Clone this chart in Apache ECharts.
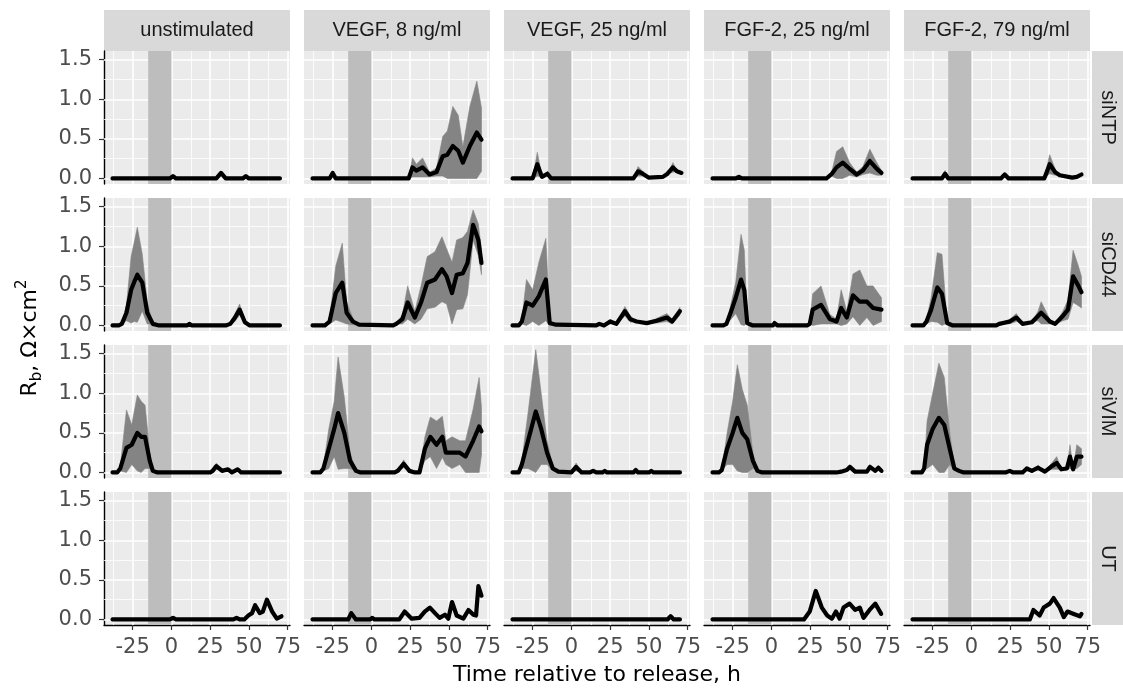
<!DOCTYPE html>
<html>
<head>
<meta charset="utf-8">
<script src="https://cdn.jsdelivr.net/npm/echarts@6/dist/echarts.min.js"></script>
<style>
  html, body { margin: 0; background: #fff; }
  #chart { width: 1123px; height: 689px; }
</style>
</head>
<body>
<div id="chart"></div>
<script>
// facets
const conditions = ['unstimulated', 'VEGF, 8 ng/ml', 'VEGF, 25 ng/ml', 'FGF-2, 25 ng/ml', 'FGF-2, 79 ng/ml']
const knockdowns = ['siNTP', 'siCD44', 'siVIM', 'UT']

// axes
const xTicks = [-25, 0, 25, 50, 75]
const xMinor = [-37.5, -12.5, 12.5, 37.5, 62.5]
const yTicks = [0, 0.5, 1, 1.5]
const yMinor = [0.25, 0.75, 1.25]
const xRange = [-43.5, 76.5]
const yRange = [-0.07, 1.61]
const releaseWindow = [-15, 0]

// [time h, mean Rb, sd]
const siNTP_unstim = [[-38, 0], [-1, 0], [1, 0.03], [3, 0], [29, 0], [32, 0.07, 0.02], [35, 0], [46, 0], [48, 0.03], [50, 0], [70, 0]]
const siNTP_vegf8 = [[-38, 0], [-27, 0], [-25, 0.07], [-23, 0], [24, 0], [26.5, 0.14, 0.12], [29, 0.1, 0.08], [33, 0.14, 0.12], [37.5, 0.05, 0.03], [42, 0.08, 0.05], [46, 0.28, 0.25], [49, 0.3, 0.3], [52.5, 0.41, 0.5], [56, 0.35, 0.45], [59, 0.2, 0.2], [63.5, 0.41, 0.5], [68, 0.58, 0.65], [71, 0.49, 0.4]]
const siNTP_vegf25 = [[-38, 0], [-25, 0], [-22, 0.18, 0.15], [-19, 0.02], [-15.5, 0.06, 0.03], [-13, 0], [40, 0], [43, 0.09, 0.06], [46, 0.06, 0.03], [50, 0.01], [59, 0.02], [62, 0.06], [65.5, 0.14, 0.06], [68, 0.09], [71, 0.07]]
const siNTP_fgf25 = [[-38, 0], [-23, 0], [-21, 0.02], [-19, 0], [35.5, 0], [39, 0.06, 0.03], [42, 0.14, 0.2], [46, 0.2, 0.2], [50.5, 0.12, 0.08], [55, 0.05, 0.03], [59, 0.1, 0.05], [63.5, 0.22, 0.15], [68, 0.12, 0.08], [71, 0.07, 0.03]]
const siNTP_fgf79 = [[-38, 0], [-19, 0], [-17, 0.06, 0.04], [-15, 0], [19, 0], [21.5, 0.05, 0.02], [24, 0], [47, 0], [50.5, 0.18, 0.12], [54, 0.08, 0.04], [57, 0.04], [65, 0.01], [68, 0.02], [71, 0.05]]

const siCD44_unstim = [[-38, 0], [-34, 0], [-32, 0.02], [-29, 0.16, 0.1], [-26, 0.45, 0.42], [-24, 0.55, 0.5], [-22, 0.64, 0.6], [-18.8, 0.54, 0.36], [-15.6, 0.16, 0.14], [-12, 0.02], [-8, 0], [10, 0], [11.7, 0.02], [13, 0], [35, 0], [38, 0.02], [41, 0.1, 0.05], [44, 0.2, 0.07], [47.4, 0.04, 0.02], [50.5, 0], [70, 0]]
const siCD44_vegf8 = [[-38, 0], [-30, 0], [-27, 0.05, 0.03], [-23, 0.41, 0.34], [-18.8, 0.54, 0.5], [-16, 0.16, 0.14], [-12, 0.05, 0.04], [-8, 0.01], [14, 0], [16, 0.02], [20, 0.08, 0.06], [23.4, 0.29, 0.21], [28, 0.1, 0.08], [32, 0.29, 0.21], [36, 0.54, 0.33], [41, 0.58, 0.35], [45.5, 0.71, 0.41], [48.5, 0.62, 0.35], [52, 0.41, 0.39], [55, 0.64, 0.44], [59, 0.66, 0.45], [62, 0.79, 0.4], [65.6, 1.27, 0.19], [69, 1.08, 0.2], [71, 0.79, 0.15]]
const siCD44_vegf25 = [[-38, 0], [-34, 0], [-32, 0.05, 0.03], [-29, 0.29, 0.29], [-25, 0.25, 0.2], [-21, 0.37, 0.43], [-16.5, 0.58, 0.52], [-14, 0.03, 0.03], [-10, 0.01], [16, 0], [18, 0.02], [21, 0], [25, 0.05, 0.03], [29, 0.02], [34.5, 0.18, 0.06], [38, 0.08, 0.04], [42, 0.05], [48.6, 0.03], [55, 0.06, 0.03], [61.6, 0.1, 0.05], [65, 0.05, 0.03], [70, 0.18, 0.05]]
const siCD44_fgf25 = [[-38, 0], [-31, 0], [-29, 0.02], [-26, 0.18, 0.1], [-23, 0.35, 0.2], [-19.6, 0.58, 0.57], [-17.5, 0.45, 0.5], [-15.6, 0.03], [-12, 0], [1, 0], [2, 0.03], [4, 0], [23, 0], [24.7, 0.02], [26.6, 0.2, 0.2], [32, 0.26, 0.24], [37.7, 0.08, 0.06], [42, 0.05, 0.03], [45, 0.22, 0.23], [48.6, 0.1, 0.08], [52.6, 0.38, 0.27], [57, 0.3, 0.4], [61.6, 0.3, 0.2], [65.6, 0.22, 0.28], [71, 0.2, 0.15]]
const siCD44_fgf79 = [[-38, 0], [-31, 0], [-29, 0.05, 0.03], [-26, 0.2, 0.15], [-22, 0.48, 0.44], [-19, 0.4, 0.5], [-15.6, 0.03], [-12, 0], [16, 0], [18, 0.02], [24.7, 0.05, 0.03], [29, 0.1, 0.05], [33, 0.02], [39, 0.04], [43, 0.12, 0.06], [45, 0.16, 0.14], [50.6, 0.05, 0.03], [54, 0.02], [59, 0.12, 0.06], [62.3, 0.2, 0.12], [65.6, 0.62, 0.33], [69, 0.5, 0.25], [71, 0.42, 0.2]]

const siVIM_unstim = [[-38, 0], [-35, 0], [-33, 0.05, 0.03], [-29, 0.31, 0.48], [-25.6, 0.35, 0.25], [-22, 0.5, 0.48], [-19.5, 0.45, 0.45], [-17, 0.45, 0.4], [-14, 0.15, 0.1], [-12, 0.02], [-9, 0], [25, 0], [26.6, 0.02], [29, 0.08, 0.04], [32.7, 0.02], [36.5, 0.04], [39, 0], [42.7, 0.04], [45, 0], [70, 0]]
const siVIM_vegf8 = [[-38, 0], [-33, 0], [-31, 0.05, 0.03], [-27.5, 0.3, 0.25], [-24, 0.55, 0.35], [-21.5, 0.75, 0.71], [-17.5, 0.5, 0.45], [-13.8, 0.15, 0.1], [-10, 0.02], [-7, 0], [15, 0], [17, 0.02], [20.8, 0.11, 0.05], [24.5, 0.02], [28, 0], [31, 0], [34.5, 0.3, 0.15], [38, 0.45, 0.25], [42, 0.35, 0.3], [45.8, 0.45, 0.26], [48, 0.25, 0.15], [52, 0.25, 0.2], [57, 0.25, 0.15], [60.7, 0.2, 0.2], [65.6, 0.4, 0.4], [69.5, 0.58, 0.62], [71, 0.52, 0.3]]
const siVIM_vegf25 = [[-38, 0], [-34, 0], [-32, 0.1, 0.05], [-28, 0.4, 0.35], [-23, 0.77, 0.78], [-19.5, 0.55, 0.45], [-15.7, 0.25, 0.15], [-12, 0.05, 0.03], [-8.4, 0.01], [0, 0], [3, 0.07, 0.05], [6.6, 0], [12, 0], [14, 0.02], [16, 0], [20, 0], [21.5, 0.02], [23, 0], [40, 0], [41.5, 0.03], [43, 0], [50, 0], [51.5, 0.02], [53, 0], [70, 0]]
const siVIM_fgf25 = [[-38, 0], [-34, 0], [-32, 0.03], [-28.6, 0.3, 0.2], [-25, 0.5, 0.4], [-22, 0.69, 0.67], [-18.8, 0.5, 0.55], [-15.6, 0.42, 0.43], [-12, 0.15, 0.1], [-9, 0.02], [-6, 0], [42, 0], [45, 0.01], [48.6, 0.03], [50.6, 0.07, 0.03], [54, 0.01], [61.6, 0.01], [63.6, 0.07, 0.03], [67, 0.02], [69, 0.06, 0.03], [71, 0.02]]
const siVIM_fgf79 = [[-38, 0], [-32, 0], [-30.5, 0.05], [-28.6, 0.35, 0.3], [-25, 0.55, 0.45], [-21, 0.69, 0.69], [-17.5, 0.6, 0.6], [-14, 0.3, 0.2], [-11, 0.05, 0.03], [-8, 0.02], [-5, 0], [22, 0], [24.7, 0.02], [27, 0], [33, 0], [35.7, 0.05, 0.02], [39, 0.02], [43, 0.06, 0.03], [47.4, 0.01], [51.9, 0.08, 0.04], [55, 0.12, 0.08], [58, 0.04], [61.6, 0.05], [63.6, 0.2, 0.15], [65.6, 0.04], [68, 0.2, 0.15], [71, 0.2, 0.1]]

const UT_unstim = [[-38, 0], [-1, 0], [1, 0.02], [3, 0], [40, 0], [42, 0.02], [44, 0], [47, 0], [49.6, 0.05], [52, 0.08], [54, 0.18], [57, 0.08], [59, 0.1], [61.6, 0.25], [65, 0.1], [68, 0.01], [71, 0.04]]
const UT_vegf8 = [[-38, 0], [-15, 0], [-13, 0.08], [-10, 0], [-1, 0], [0.6, 0.02], [2, 0], [18, 0], [21.4, 0.1], [26, 0.01], [31, 0.02], [34.4, 0.1], [37.7, 0.15], [41, 0.08], [44, 0.02], [47.4, 0.06], [49.6, 0.01], [52, 0.22], [55, 0.05], [59.3, 0.01], [62.6, 0.12], [65.8, 0.06], [67.5, 0.05], [69, 0.42], [71, 0.3]]
const UT_vegf25 = [[-38, 0], [62, 0], [64, 0.04], [66, 0], [70, 0]]
const UT_fgf25 = [[-38, 0], [21, 0], [22, 0.01], [24.7, 0.1], [28.6, 0.36], [32.5, 0.15], [36, 0.05], [39, 0.01], [41.6, 0.1], [44, 0.01], [46.5, 0.15], [50.4, 0.2], [54, 0.12], [57, 0.15], [59.4, 0.02], [63.3, 0.12], [67, 0.2], [70.8, 0.07]]
const UT_fgf79 = [[-38, 0], [37.7, 0], [40, 0.12], [44, 0.05], [46.6, 0.15], [50.6, 0.2], [53, 0.27], [57, 0.15], [59.6, 0.03], [62, 0.1], [66, 0.07], [70, 0.04], [71, 0.07]]

const panelData = [
  [siNTP_unstim, siNTP_vegf8, siNTP_vegf25, siNTP_fgf25, siNTP_fgf79],
  [siCD44_unstim, siCD44_vegf8, siCD44_vegf25, siCD44_fgf25, siCD44_fgf79],
  [siVIM_unstim, siVIM_vegf8, siVIM_vegf25, siVIM_fgf25, siVIM_fgf79],
  [UT_unstim, UT_vegf8, UT_vegf25, UT_fgf25, UT_fgf79]
]

// layout
const PANEL_LEFT = 104
const PANEL_TOP = 51
const PANEL_W = 186
const PANEL_H = 133
const COL_STEP = 200
const ROW_STEP = 147
const STRIP_H = 41
const STRIP_FONT = 'Liberation Sans'
const TICK_FONT = 'DejaVu Sans'

const grid = []
const xAxis = []
const yAxis = []
const series = []
const graphic = []

const gridLines = [].concat(
  xTicks.map(v => ({ xAxis: v, lineStyle: { width: 1.6 } })),
  xMinor.map(v => ({ xAxis: v, lineStyle: { width: 0.8 } })),
  yTicks.map(v => ({ yAxis: v, lineStyle: { width: 1.6 } })),
  yMinor.map(v => ({ yAxis: v, lineStyle: { width: 0.8 } }))
)

// the sd band is one polygon: upper edge forward, lower edge back
function bandRenderer (band) {
  return function (params, api) {
    if (params.dataIndex !== 0) return null
    const upper = band.map(d => api.coord([d[0], d[2]]))
    const lower = band.map(d => api.coord([d[0], d[1]])).reverse()
    return {
      type: 'polygon',
      shape: { points: upper.concat(lower) },
      style: { fill: '#848484', stroke: '#848484', lineWidth: 0.6 }
    }
  }
}

knockdowns.forEach((kd, r) => {
  conditions.forEach((cond, c) => {
    const i = r * conditions.length + c
    const firstCol = c === 0
    const lastRow = r === knockdowns.length - 1
    const rows = panelData[r][c]

    grid.push({
      left: PANEL_LEFT + c * COL_STEP,
      top: PANEL_TOP + r * ROW_STEP,
      width: PANEL_W,
      height: PANEL_H,
      show: true,
      backgroundColor: '#ebebeb',
      borderWidth: 0,
      outerBoundsMode: 'none'
    })

    xAxis.push({
      type: 'value',
      gridIndex: i,
      min: xRange[0],
      max: xRange[1],
      axisLine: { show: lastRow, onZero: false, lineStyle: { color: '#000', width: 1.4 } },
      axisTick: { show: lastRow, customValues: xTicks, length: 5, lineStyle: { color: '#333', width: 1.2 } },
      axisLabel: {
        show: lastRow, customValues: xTicks, margin: 12,
        color: '#4d4d4d', fontSize: 21, fontFamily: TICK_FONT,
        formatter: v => String(v)
      },
      splitLine: { show: false }
    })

    yAxis.push({
      type: 'value',
      gridIndex: i,
      min: yRange[0],
      max: yRange[1],
      axisLine: { show: firstCol, onZero: false, lineStyle: { color: '#000', width: 1.4 } },
      axisTick: { show: firstCol, customValues: yTicks, length: 5, lineStyle: { color: '#333', width: 1.2 } },
      axisLabel: {
        show: firstCol, customValues: yTicks, margin: 12,
        color: '#4d4d4d', fontSize: 21, fontFamily: TICK_FONT,
        formatter: v => v.toFixed(1)
      },
      splitLine: { show: false }
    })

    const base = { xAxisIndex: i, yAxisIndex: i, silent: true, animation: false }

    // panel grid
    series.push(Object.assign({}, base, {
      type: 'line', data: [], z: 1, symbol: 'none',
      markLine: {
        z: 1, silent: true, symbol: 'none', animation: false,
        label: { show: false }, emphasis: { disabled: true },
        lineStyle: { color: '#fff', type: 'solid' },
        data: gridLines
      }
    }))

    // release window
    series.push(Object.assign({}, base, {
      type: 'line', data: [], z: 2, symbol: 'none',
      markArea: {
        z: 2, silent: true, animation: false,
        itemStyle: { color: '#bdbdbd' },
        data: [[{ xAxis: releaseWindow[0] }, { xAxis: releaseWindow[1] }]]
      }
    }))

    // sd band
    const band = rows.map(d => [d[0], Math.max(0, d[1] - (d[2] || 0)), d[1] + (d[2] || 0)])
    series.push(Object.assign({}, base, {
      type: 'custom', data: band, z: 3, clip: true,
      encode: { x: 0, y: [1, 2] },
      renderItem: bandRenderer(band)
    }))

    // mean
    series.push(Object.assign({}, base, {
      type: 'line', data: rows.map(d => [d[0], d[1]]), z: 4, symbol: 'none',
      lineStyle: { color: '#000', width: 4.2, join: 'round', cap: 'round' }
    }))
  })
})

// column strips
conditions.forEach((cond, c) => {
  const x = PANEL_LEFT + c * COL_STEP
  graphic.push({ type: 'rect', shape: { x: x, y: PANEL_TOP - STRIP_H, width: PANEL_W, height: STRIP_H }, style: { fill: '#d9d9d9' }, silent: true })
  graphic.push({
    type: 'text', x: x + PANEL_W / 2, y: PANEL_TOP - STRIP_H / 2, silent: true,
    style: { text: cond, fontSize: 20, fontFamily: STRIP_FONT, fill: '#1a1a1a', align: 'center', verticalAlign: 'middle' }
  })
})

// row strips
knockdowns.forEach((kd, r) => {
  const y = PANEL_TOP + r * ROW_STEP
  const x = PANEL_LEFT + 4 * COL_STEP + PANEL_W + 2
  graphic.push({ type: 'rect', shape: { x: x, y: y, width: 31, height: PANEL_H }, style: { fill: '#d9d9d9' }, silent: true })
  graphic.push({
    type: 'text', x: x + 15.5, y: y + PANEL_H / 2, rotation: -Math.PI / 2, silent: true,
    style: { text: kd, fontSize: 20, fontFamily: STRIP_FONT, fill: '#1a1a1a', align: 'center', verticalAlign: 'middle' }
  })
})

// axis titles
graphic.push({
  type: 'text', x: 597, y: 675, silent: true,
  style: { text: 'Time relative to release, h', fontSize: 22, fontFamily: TICK_FONT, fill: '#000', align: 'center', verticalAlign: 'middle' }
})
graphic.push({
  type: 'text', x: 30, y: 338, rotation: Math.PI / 2, silent: true,
  style: {
    text: '{r|R}{s|b}{r|, Ω×cm}{p|2}',
    align: 'center', verticalAlign: 'middle',
    rich: {
      r: { fontSize: 22, fontFamily: TICK_FONT, fill: '#000', lineHeight: 30 },
      s: { fontSize: 15, fontFamily: TICK_FONT, fill: '#000', lineHeight: 15, verticalAlign: 'bottom' },
      p: { fontSize: 15, fontFamily: TICK_FONT, fill: '#000', lineHeight: 15, verticalAlign: 'top' }
    }
  }
})

const chart = echarts.init(document.getElementById('chart'), null, { renderer: 'canvas' })
chart.setOption({
  animation: false,
  backgroundColor: '#fff',
  grid: grid,
  xAxis: xAxis,
  yAxis: yAxis,
  series: series,
  graphic: graphic
})
</script>
</body>
</html>
